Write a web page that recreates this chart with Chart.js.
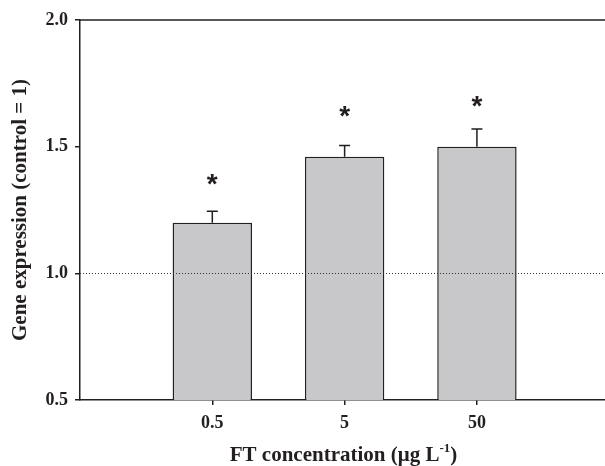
<!DOCTYPE html>
<html>
<head>
<meta charset="utf-8">
<script src="https://cdn.jsdelivr.net/npm/chart.js@4"></script>
<style>
  body { margin: 0; background: #fff; }
  #wrap { width: 605px; height: 466px; }
</style>
</head>
<body>
<div id="wrap"><canvas id="geneChart" width="605" height="466"></canvas></div>
<script>
// FT concentration groups (ug/L) and gene expression relative to control
const categories = ["0.5", "5", "50"];
const xPositions = [1, 2, 3];
const expression = [1.2, 1.46, 1.5];
const errorUp = [0.045, 0.045, 0.07];
const starLevels = [1.37, 1.637, 1.678];
const starLabels = ["*", "*", "*"];
const controlLevel = 1.0;
const yTicks = [0.5, 1.0, 1.5, 2.0];

const ink = "#231f20";
const serif = "'Liberation Serif', 'Times New Roman', serif";

const extrasPlugin = {
    id: "extras",
    afterDatasetsDraw(chart) {
        const { ctx, chartArea, scales } = chart;
        const x = scales.x, y = scales.y;
        ctx.save();

        // error bars (upper only)
        ctx.strokeStyle = ink;
        ctx.lineWidth = 1.5;
        xPositions.forEach((xv, i) => {
            const px = x.getPixelForValue(xv);
            const top = y.getPixelForValue(expression[i] + errorUp[i]);
            const base = y.getPixelForValue(expression[i]);
            ctx.beginPath();
            ctx.moveTo(px, base);
            ctx.lineTo(px, top);
            ctx.moveTo(px - 5.5, top);
            ctx.lineTo(px + 5.5, top);
            ctx.stroke();
        });

        // control reference line, dotted, drawn over the bars
        const yc = Math.round(y.getPixelForValue(controlLevel)) + 0.5;
        ctx.strokeStyle = "#333";
        ctx.lineWidth = 1;
        ctx.setLineDash([1, 2]);
        ctx.beginPath();
        ctx.moveTo(chartArea.left, yc);
        ctx.lineTo(chartArea.right, yc);
        ctx.stroke();
        ctx.setLineDash([]);

        // significance asterisks
        ctx.fillStyle = ink;
        ctx.font = "bold 28px 'Liberation Sans', Arial, sans-serif";
        ctx.textAlign = "center";
        ctx.textBaseline = "alphabetic";
        xPositions.forEach((xv, i) => {
            const m = ctx.measureText(starLabels[i]);
            const cy = y.getPixelForValue(starLevels[i]);
            const off = (m.actualBoundingBoxAscent - m.actualBoundingBoxDescent) / 2;
            ctx.fillText(starLabels[i], x.getPixelForValue(xv), cy + off);
        });

        // top frame line
        ctx.strokeStyle = ink;
        ctx.lineWidth = 1.5;
        ctx.beginPath();
        ctx.moveTo(chartArea.left, chartArea.top);
        ctx.lineTo(chartArea.right, chartArea.top);
        ctx.stroke();

        // x axis title with superscript
        const main = "FT concentration (\u03bcg L";
        const sup = "-1";
        const close = ")";
        ctx.textAlign = "left";
        ctx.font = "bold 21px " + serif;
        const wMain = ctx.measureText(main).width;
        const wClose = ctx.measureText(close).width;
        ctx.font = "bold 13px " + serif;
        const wSup = ctx.measureText(sup).width;
        const total = wMain + wSup + wClose;
        let tx = (chartArea.left + chartArea.right) / 2 - total / 2 + 1;
        const baseY = 461;
        ctx.font = "bold 21px " + serif;
        ctx.fillText(main, tx, baseY);
        tx += wMain;
        ctx.font = "bold 13px " + serif;
        ctx.fillText(sup, tx, baseY - 9);
        tx += wSup;
        ctx.font = "bold 21px " + serif;
        ctx.fillText(close, tx, baseY);

        ctx.restore();
    }
};

new Chart(document.getElementById("geneChart"), {
    type: "bar",
    data: {
        datasets: [
            {
                data: xPositions.map((xv, i) => ({ x: xv, y: expression[i] })),
                backgroundColor: "#c8c8ca",
                borderColor: ink,
                borderWidth: 1.5,
                barPercentage: 0.6,
                categoryPercentage: 1.0,
            },
        ],
    },
    options: {
        responsive: false,
        animation: false,
        layout: { padding: { top: 20, right: 0, left: 0, bottom: 0 } },
        plugins: {
            legend: { display: false },
            tooltip: { enabled: false },
        },
        scales: {
            x: {
                type: "linear",
                min: 0,
                max: 3.968,
                offset: false,
                afterBuildTicks: (scale) => {
                    scale.ticks = xPositions.map((v) => ({ value: v }));
                },
                afterFit: (scale) => {
                    scale.height = 66;
                },
                grid: {
                    offset: false,
                    drawOnChartArea: false,
                    drawTicks: true,
                    tickLength: 5,
                    color: ink,
                    lineWidth: 1.5,
                },
                border: { display: true, color: ink, width: 1.5 },
                ticks: {
                    padding: 8,
                    color: ink,
                    font: { family: serif, size: 18, weight: "bold" },
                    callback: (value, index) => categories[index],
                },
            },
            y: {
                min: 0.5,
                max: 2.0,
                afterBuildTicks: (scale) => {
                    scale.ticks = yTicks.map((v) => ({ value: v }));
                },
                afterFit: (scale) => {
                    scale.width = 80;
                },
                grid: {
                    drawOnChartArea: false,
                    drawTicks: true,
                    tickLength: 5,
                    color: ink,
                    lineWidth: 1.5,
                },
                border: { display: true, color: ink, width: 1.5 },
                ticks: {
                    padding: 7,
                    color: ink,
                    font: { family: serif, size: 18, weight: "bold" },
                    callback: (value) => value.toFixed(1),
                },
                title: {
                    display: true,
                    text: "Gene expression (control = 1)",
                    color: ink,
                    font: { family: serif, size: 21, weight: "bold" },
                    padding: { top: 8, bottom: 0 },
                },
            },
        },
    },
    plugins: [extrasPlugin],
});
</script>
</body>
</html>
